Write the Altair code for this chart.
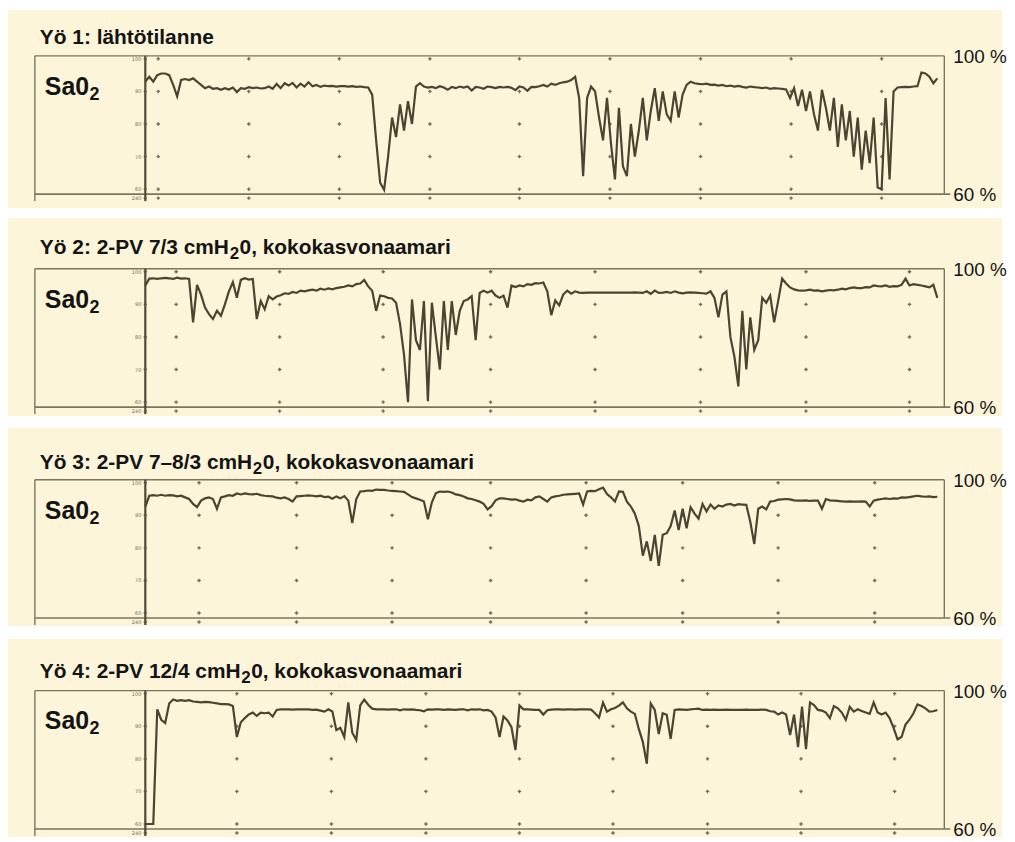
import altair as alt
import pandas as pd

# ---------------- data (SaO2 %, one value per sample along the night) -------------
NIGHT1 = [
    93, 94.5, 93, 95, 95.5, 95.5, 95, 92, 88.5, 93.5,
    93.8, 93.5, 94, 93, 92, 91, 91.5, 90.8, 91, 90.5,
    91, 90.6, 91.2, 89.8, 91, 90.8, 91.3, 91, 91.2, 90.9,
    91, 91.5, 90.8, 92.3, 91, 92.5, 91.8, 92.6, 91.2, 92.4,
    91.5, 92.8, 91.6, 92, 91.4, 91.8, 91.6, 91.7, 91.5, 91.6,
    91.6, 91.5, 91.6, 91.4, 91.5, 91.3, 91.2, 89, 75, 62,
    59.8, 70, 82, 76, 86, 78, 87, 80, 91.5, 92.5,
    91.5, 91.2, 91.4, 91, 91.6, 91.2, 90.5, 91.4, 91, 91.5,
    91.2, 91.5, 90.3, 91.4, 91.2, 90.8, 91.5, 91.3, 91, 91.4,
    91.2, 91.4, 91.1, 90.4, 91.5, 91.2, 90.2, 91.4, 91.3, 91.6,
    92, 91.5, 92.4, 92, 92.5, 92.8, 93, 93.5, 94.5, 88,
    64, 88, 91.5, 90, 82, 75, 88, 74, 63, 85,
    67, 64, 80, 70, 78, 88, 75, 84, 91, 81,
    90, 83, 81, 90, 82, 89, 92, 93, 92.5, 92.3,
    92.2, 92.4, 92, 92.1, 91.8, 92, 91.6, 91.8, 91.5, 91.7,
    91.4, 91.2, 91.5, 91.3, 91.2, 91, 91.2, 90.8, 91, 90.9,
    90.8, 90.6, 88, 91, 85.5, 90.5, 84, 90, 83, 78,
    90.5, 85, 78, 88, 73, 86, 75, 84, 70, 82,
    66, 78, 68, 82, 60.5, 60, 88, 63, 90, 91.2,
    91.3, 91.4, 91.3, 91.5, 91.6, 95.8, 95.5, 94.5, 92.5, 94,
]
NIGHT2 = [
    95.8, 97.9, 98, 97.8, 98, 98.1, 98, 97.8, 98.2, 97.9,
    98, 97.8, 84.5, 96, 93, 89, 87, 85.5, 88, 86.5,
    90, 94, 96.8, 92, 97.5, 98, 97.6, 97.8, 85.5, 91,
    88.5, 92.5, 91.5, 92.4, 92.8, 93.4, 93.2, 93.8, 93.5, 94.2,
    94, 94.3, 94.5, 94.2, 94.8, 94.5, 94.9, 94.6, 95, 95.2,
    95.4, 95.8, 95.5, 96.2, 96.4, 97.5, 95.5, 94.2, 88, 92.7,
    92.5, 92, 91.8, 90.5, 84, 74.5, 60, 91.5, 79, 76,
    91, 60.3, 90.5, 80, 70, 91, 76, 91, 80.6, 88,
    91, 91.5, 92.5, 79, 93.5, 94.2, 93.6, 94.2, 92.7, 92,
    92.7, 89, 95.8, 95.3, 95.8, 95.5, 96.2, 96, 96.5, 96.4,
    96.7, 94, 86.7, 91.2, 89.7, 93, 94.2, 93.3, 94, 93.6,
    93.5, 93.6, 93.6, 93.6, 93.6, 93.6, 93.6, 93.6, 93.6, 93.6,
    93.6, 93.6, 93.6, 93.7, 93.6, 93.5, 94, 93.2, 94.2, 93.5,
    93.6, 93.8, 93.5, 94, 93.6, 93.4, 93.6, 93.7, 93.6, 93.5,
    93.4, 93.3, 94, 92, 86, 93, 94, 80, 74, 64.8,
    88, 70, 86, 76, 79, 92, 90.5, 92.7, 84.5, 91,
    97.9, 96.4, 95.2, 94.6, 94.3, 94.2, 94.3, 94.5, 94.2, 94.3,
    94, 94.2, 94.4, 94.3, 94.5, 94.8, 94.6, 95, 95.2, 95,
    95, 95.3, 95.2, 95.8, 95.6, 95.5, 95.8, 95.4, 95.6, 95.5,
    96, 97.9, 95.8, 96.2, 96, 95.8, 95.5, 95.2, 96, 92,
]
NIGHT3 = [
    92.7, 96, 96.2, 96, 96.3, 96, 96.2, 96.1, 95.8, 96,
    95.5, 95, 93.5, 92.5, 94.5, 95.2, 95.5, 95, 92, 95.5,
    95.8, 96.2, 96, 96.7, 96.4, 96.7, 96.5, 96.4, 96.6, 96.2,
    96, 95.9, 95.8, 95.4, 95.2, 95.5, 95, 94.2, 95.8, 95.9,
    96, 96.1, 96, 95.8, 96, 95.6, 95.7, 95.1, 95.8, 95.2,
    95.9, 94.5, 87.6, 95, 97.3, 97.4, 97.6, 97.5, 97.9, 97.8,
    97.8, 97.6, 97.5, 97.4, 97.3, 97.2, 96.4, 95.6, 95.2, 94.8,
    94.2, 88.8, 94, 96.8, 97.3, 97.2, 97.3, 97, 96.4, 96.2,
    95.8, 95.2, 95, 94.6, 94.2, 93.5, 91.8, 92.8, 94.6, 95.2,
    95.2, 95, 94.8, 94.9, 94.5, 94.2, 94.8, 94.6, 95.5, 95.8,
    95, 94.2, 95.5, 95.8, 96, 96.3, 96.4, 96.5, 96.6, 96.7,
    93.3, 97.3, 97.5, 97.4, 98, 98.5, 96.5, 95.5, 94.2, 97.3,
    97.2, 94.2, 92.7, 90.5, 86.7, 77.6, 82, 76, 84, 74.5,
    84, 84.5, 86.7, 91.5, 85.5, 92, 86, 92.5, 90.5, 89,
    93.5, 91.2, 93.3, 92, 93, 92.7, 93.3, 93.5, 93, 93.4,
    93.3, 93.2, 88, 81.2, 92, 92.7, 91.8, 94.2, 94.4, 94.8,
    94.9, 95, 94.9, 94.6, 94.5, 94.5, 94.6, 94.4, 94.5, 94.5,
    92, 95, 94.6, 94.5, 94.4, 94.3, 94.2, 94.3, 94.2, 94.2,
    94.3, 94.2, 92.7, 94.5, 94.8, 95, 95.2, 95, 95.2, 95.1,
    95.5, 95.4, 95.6, 95.8, 96, 95.8, 95.7, 95.8, 95.6, 95.7,
]
NIGHT4 = [
    60, 60, 60, 95.2, 92, 91, 97, 98.2, 97.8, 98,
    97.8, 98, 97.6, 97.5, 97.3, 97.5, 97.4, 97.2, 97, 96.8,
    96.8, 96.7, 96.2, 86.7, 91.2, 92.5, 93.6, 94.2, 93.2, 94.2,
    94, 94.2, 93, 95, 95.2, 95.2, 95.2, 95.1, 95.2, 95.2,
    95.2, 95.2, 95, 95.1, 94.8, 94.5, 95.2, 94.5, 88.8, 89.5,
    86.7, 97.3, 88, 85.8, 96.4, 98.2, 96.6, 95.4, 95.2, 95.2,
    95.2, 95.1, 95.2, 95.2, 94.9, 95.2, 95.1, 95.2, 95, 94.9,
    94.6, 95.2, 95.1, 95.2, 95.2, 95, 95.2, 95.1, 95, 95.2,
    95.2, 94.9, 95.2, 95.1, 95.2, 94.9, 95, 94.5, 92.7, 86.7,
    93, 91.8, 89.7, 82.7, 96.4, 95.2, 95.2, 95.1, 95, 95,
    93.6, 94.9, 95.1, 95.2, 95.2, 95.1, 95.2, 95.2, 95.1, 95.2,
    95.2, 95.2, 95.1, 94, 92.7, 97.3, 94.5, 95.2, 95.6, 96.3,
    97.3, 95.5, 94.5, 93.8, 89.1, 85.2, 78.5, 97, 95, 87.6,
    94, 93.5, 86.1, 95, 95.2, 95.1, 95, 95.2, 95.3, 95.4,
    95, 95.1, 95, 95.1, 95, 95, 95.1, 95, 95, 95,
    95, 95.1, 95, 95, 95, 95.1, 95, 94.6, 94.5, 93.6,
    94.2, 93.6, 87.3, 93.6, 83.6, 96, 83, 97.3, 96.5, 95,
    94.8, 94.2, 92.5, 96.2, 95.5, 94.2, 92, 96, 94.5, 95.2,
    94.7, 94.2, 93.8, 97.3, 94.2, 93.6, 94.2, 92.5, 89.5, 86,
    86.7, 90.5, 92, 94, 96.7, 96.2, 95.5, 94.5, 94.6, 95,
]
NIGHTS = [NIGHT1, NIGHT2, NIGHT3, NIGHT4]

# hour marks (grid "+" columns), in sample units
HOUR_MARKS = [
    [3.25, 26, 48.75, 71.5, 94, 116.75, 139.5, 162.25, 185],
    [7.75, 33.75, 59.75, 86.75, 113, 139.5, 166, 192],
    [13.5, 38, 62, 86.75, 110.75, 135, 159, 183.25],
    [23, 46.75, 70.5, 94, 117.5, 141.25, 164.75, 188.25],
]
LEVELS = [100, 90, 80, 70, 60]
LEVEL_LABELS = ["100", "90", "80", "70", "60"]
TITLES = [
    ("Yö 1: lähtötilanne", "", ""),
    ("Yö 2: 2-PV 7/3 cmH", "2", "0, kokokasvonaamari"),
    ("Yö 3: 2-PV 7–8/3 cmH", "2", "0, kokokasvonaamari"),
    ("Yö 4: 2-PV 12/4 cmH", "2", "0, kokokasvonaamari"),
]
RIGHT_TOP = "100 %"
RIGHT_BOTTOM = ["60 %", "60 %", "60 %", "60 %"]

# ---------------- styling / layout ----------------
BG = "#fcf5d9"
INK = "#4a4430"
FRAME = "#7a755f"
TXT = "#141414"
BOLD_FONT = "Liberation Sans, Arial, sans-serif"
REG_FONT = "Liberation Sans, Arial, sans-serif"

W, H, GAP = 999, 199, 10
FRAME_TOP = [46, 51, 52, 52]
TITLE_Y = [34, 36, 41, 39]
FRAME_H = 139
FRAME_L, FRAME_R = 27, 941
X0 = 138          # px of sample 0 (inner axis)
STEP = 4          # px per sample
PXU = 131 / 40    # px per SaO2 percent

# Arial Bold advance widths (per 1000 em) for subscript placement
AW = {" ": 278, ",": 278, "-": 333, "/": 278, ":": 333, "–": 556, "H": 722, "P": 667,
      "S": 667, "V": 667, "Y": 667, "a": 556, "c": 556, "e": 556, "h": 611, "i": 278,
      "k": 556, "l": 278, "m": 889, "n": 611, "o": 611, "r": 389, "s": 556, "t": 333,
      "v": 556, "ä": 556, "ö": 611}


def tw(s, size):
    return sum(AW.get(c, 556) for c in s) * size / 1000.0


ONE = pd.DataFrame({"k": [0]})


def rule(x1, x2, y1, y2, color=FRAME, width=1.4):
    return alt.Chart(ONE).mark_rule(color=color, strokeWidth=width).encode(
        x=alt.value(x1), x2=alt.value(x2), y=alt.value(y1), y2=alt.value(y2))


def label(txt, x, y, size, font, weight="normal", align="left", baseline="alphabetic", color=TXT):
    return alt.Chart(pd.DataFrame({"t": [txt]})).mark_text(
        align=align, baseline=baseline, fontSize=size, font=font, fontWeight=weight, color=color
    ).encode(x=alt.value(x), y=alt.value(y), text="t:N")


def panel(p):
    ft = FRAME_TOP[p]
    fb = ft + FRAME_H
    y100 = ft + 3
    y60 = ft + 134
    xs = alt.Scale(domain=[-X0 / STEP, (W - X0) / STEP], nice=False, zero=False)
    ys = alt.Scale(domain=[60 - (H - y60) / PXU, 100 + y100 / PXU], nice=False, zero=False)

    layers = []
    # frame
    layers.append(rule(FRAME_L, FRAME_R, ft, ft))
    layers.append(rule(FRAME_L, FRAME_R + 6, fb, fb, width=1.6))
    layers.append(rule(FRAME_L, FRAME_L, ft, fb + 7))
    layers.append(rule(FRAME_R, FRAME_R, ft, fb))
    layers.append(rule(X0, X0, ft, fb + 7, color="#4e4936", width=2.2))

    # grid crosses
    dots = pd.DataFrame([(h, lv) for h in [0] + HOUR_MARKS[p] for lv in LEVELS],
                        columns=["sample", "level"])
    layers.append(alt.Chart(dots).mark_point(shape="cross", filled=True, size=12,
                                             color="#5a5440", opacity=0.85).encode(
        x=alt.X("sample:Q", scale=xs, axis=None),
        y=alt.Y("level:Q", scale=ys, axis=None)))
    bottom = pd.DataFrame({"sample": [0] + HOUR_MARKS[p]})
    layers.append(alt.Chart(bottom).mark_point(shape="cross", filled=True, size=12,
                                               color="#5a5440", opacity=0.85).encode(
        x=alt.X("sample:Q", scale=xs, axis=None), y=alt.value(fb + 4)))

    # tiny inner axis labels
    tl = pd.DataFrame({"level": LEVELS, "t": LEVEL_LABELS})
    layers.append(alt.Chart(tl).mark_text(align="right", baseline="middle", fontSize=5,
                                          font="DejaVu Sans", color="#6b6650").encode(
        x=alt.value(X0 - 4), y=alt.Y("level:Q", scale=ys, axis=None), text="t:N"))
    layers.append(label("240", X0 - 4, fb + 4, 5, "DejaVu Sans", align="right",
                        baseline="middle", color="#6b6650"))

    # trace
    vals = NIGHTS[p]
    df = pd.DataFrame({"sample": list(range(len(vals))), "sao2": vals})
    layers.append(alt.Chart(df).mark_line(color=INK, strokeWidth=2.2).encode(
        x=alt.X("sample:Q", scale=xs, axis=None),
        y=alt.Y("sao2:Q", scale=ys, axis=None)))

    # titles
    t1, sub, t2 = TITLES[p]
    tx, ty = 32, TITLE_Y[p]
    layers.append(label(t1, tx, ty, 21, BOLD_FONT, "bold"))
    if sub:
        sx = tx + tw(t1, 21) + 0.5
        layers.append(label(sub, sx, ty + 5, 17, BOLD_FONT, "bold"))
        layers.append(label(t2, sx + tw(sub, 17) + 0.5, ty, 21, BOLD_FONT, "bold"))

    # SaO2 label
    sx0, sy0 = 37, ft + 39
    layers.append(label("Sa0", sx0, sy0, 25, BOLD_FONT, "bold"))
    layers.append(label("2", sx0 + tw("Sa0", 25) + 0.5, sy0 + 5, 18, BOLD_FONT, "bold"))

    # right labels
    layers.append(label(RIGHT_TOP, 950, ft + 1, 19, REG_FONT, baseline="middle"))
    layers.append(label(RIGHT_BOTTOM[p], 950, fb + 1, 19, REG_FONT, baseline="middle"))

    return alt.layer(*layers).properties(width=W, height=H)


chart = alt.vconcat(*[panel(p) for p in range(4)], spacing=GAP).properties(
    padding=0, background="white"
).configure_view(strokeWidth=0, fill=BG)

chart.save("out.html", embed_options={"renderer": "svg", "actions": False})
